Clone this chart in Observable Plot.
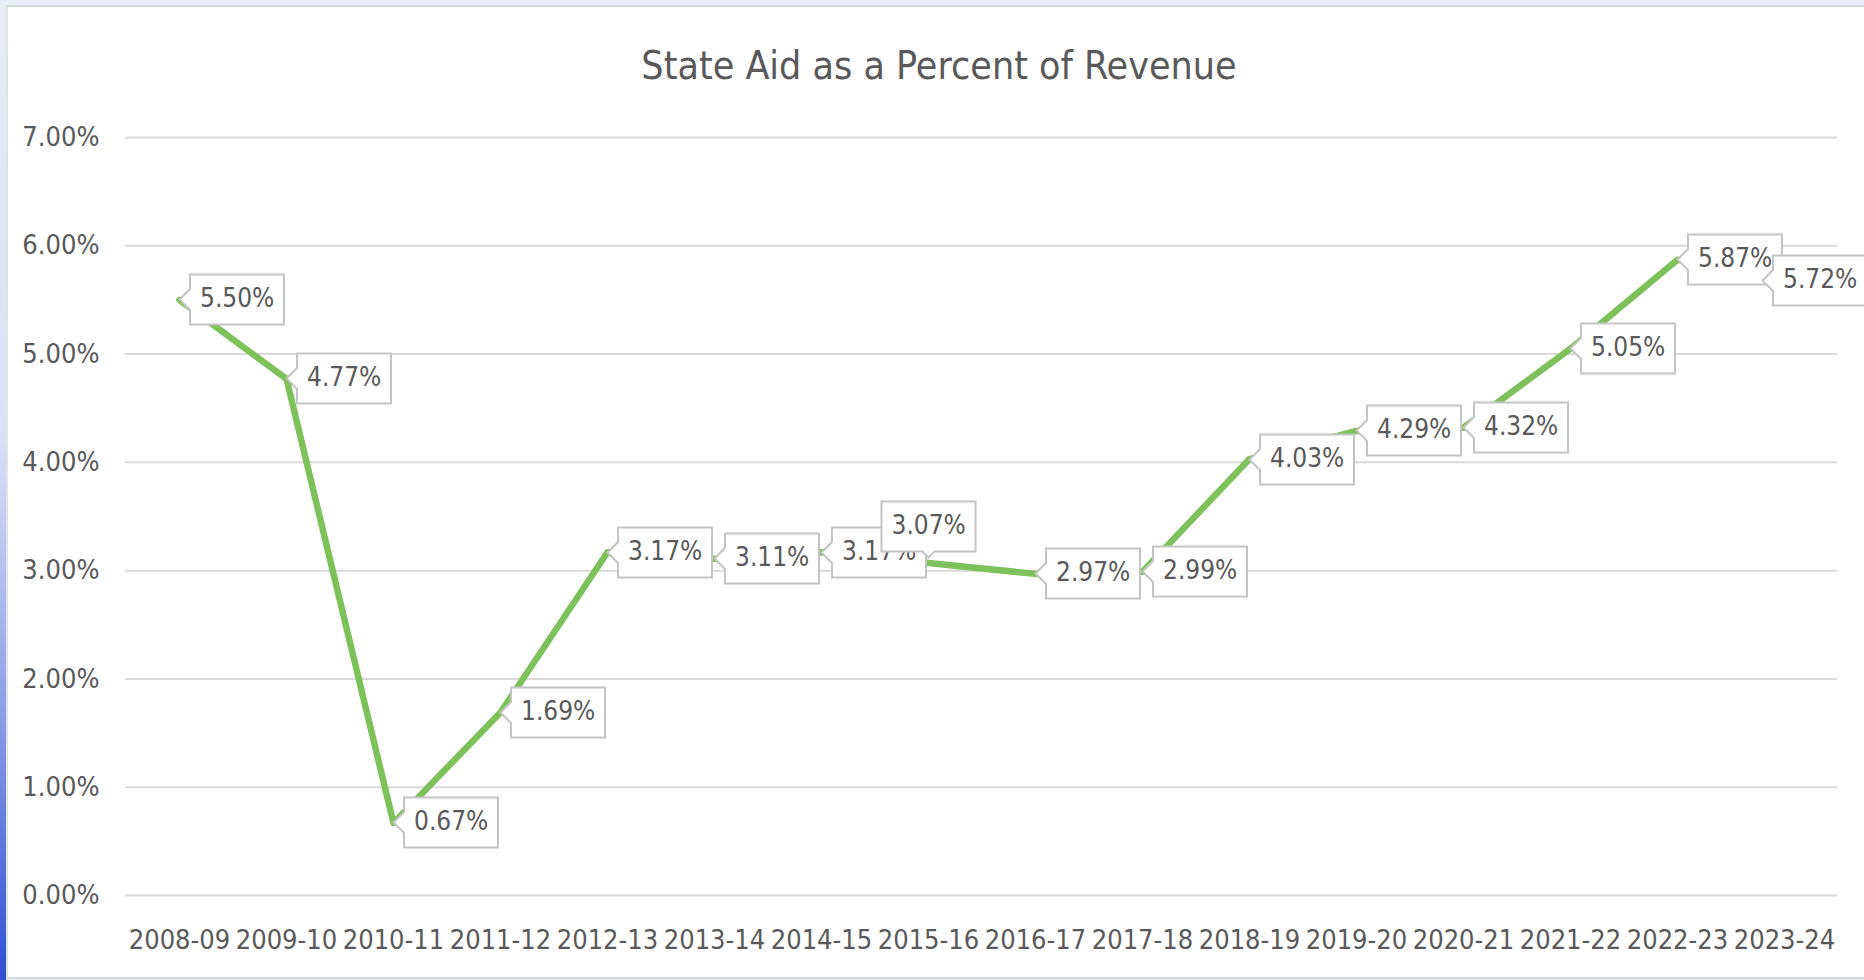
<!DOCTYPE html>
<html>
<head>
<meta charset="utf-8">
<script src="https://cdn.jsdelivr.net/npm/d3@7"></script>
<script src="https://cdn.jsdelivr.net/npm/@observablehq/plot@0.6"></script>
<style>
  html, body { margin:0; padding:0; width:1864px; height:980px; overflow:hidden; background:#eaeef6; }
  #strip { position:absolute; left:0; top:0; width:6px; height:980px;
           background:linear-gradient(#e6ebf6 0%, #d9e0f5 45%, #8d9fe6 72%, #2f4fd4 100%); }
  #frame { position:absolute; left:6px; top:5px; width:1870px; height:970px; background:#fff;
           border-top:2px solid #d6d9df; border-left:2px solid #dfe2e8; border-bottom:2px solid #d6d9df; }
  #title { position:absolute; top:44px; left:939px; transform:translateX(-50%); white-space:nowrap;
           font-family:"DejaVu Sans Condensed",sans-serif; font-size:39px; line-height:44px; color:#595959; }
  #chart { position:absolute; left:0; top:110px; }
</style>
</head>
<body>
<div id="strip"></div>
<div id="frame"></div>
<div id="title">State Aid as a Percent of Revenue</div>
<div id="chart"></div>
<script>
const years = ["2008-09","2009-10","2010-11","2011-12","2012-13","2013-14","2014-15","2015-16",
               "2016-17","2017-18","2018-19","2019-20","2020-21","2021-22","2022-23","2023-24"];
const values = [5.50, 4.77, 0.67, 1.69, 3.17, 3.11, 3.17, 3.07, 2.97, 2.99, 4.03, 4.29, 4.32, 5.05, 5.87, 5.72];
const yTicks = [0, 1, 2, 3, 4, 5, 6, 7];
const aboveLabels = ["2015-16"];
const shiftedLabels = ["2023-24"];

const data = years.map((year, i) => ({year, value: values[i]}));
const fmt = v => v.toFixed(2) + "%";
const FONT = '"DejaVu Sans Condensed",sans-serif';

const tipStyle = {
  x: "year", y: "value", title: d => fmt(d.value),
  fill: "white", stroke: "#c4c4c4", strokeWidth: 2,
  fontSize: 26, fontFamily: FONT, textPadding: 10, pointerSize: 21, pathFilter: "none"
};

const chart = Plot.plot({
  width: 1864,
  height: 870,
  marginTop: 27,
  marginBottom: 85,
  marginLeft: 125,
  marginRight: 27,
  style: {color: "#595959", fontFamily: FONT, fontSize: "27px", background: "transparent", overflow: "visible"},
  x: {type: "point", domain: years, padding: 0.5, label: null},
  y: {domain: [0, 7], label: null},
  marks: [
    Plot.ruleY(yTicks, {stroke: "#d9d9d9", strokeWidth: 2}),
    Plot.axisY({ticks: yTicks, tickFormat: fmt, tickSize: 0, tickPadding: 26, fontSize: 27, label: null}),
    Plot.axisX({tickSize: 0, tickPadding: 34, fontSize: 27, label: null}),
    Plot.line(data, {x: "year", y: "value", stroke: "#7dc15a", strokeWidth: 6.5, strokeLinejoin: "round"}),
    Plot.tip(data.filter(d => !aboveLabels.includes(d.year) && !shiftedLabels.includes(d.year)), {...tipStyle, anchor: "left"}),
    Plot.tip(data.filter(d => aboveLabels.includes(d.year)), {...tipStyle, anchor: "bottom", pointerSize: 12, dy: -6}),
    Plot.tip(data.filter(d => shiftedLabels.includes(d.year)), {...tipStyle, anchor: "left", dx: -22, dy: 4})
  ]
});
document.getElementById("chart").appendChild(chart);
</script>
</body>
</html>
